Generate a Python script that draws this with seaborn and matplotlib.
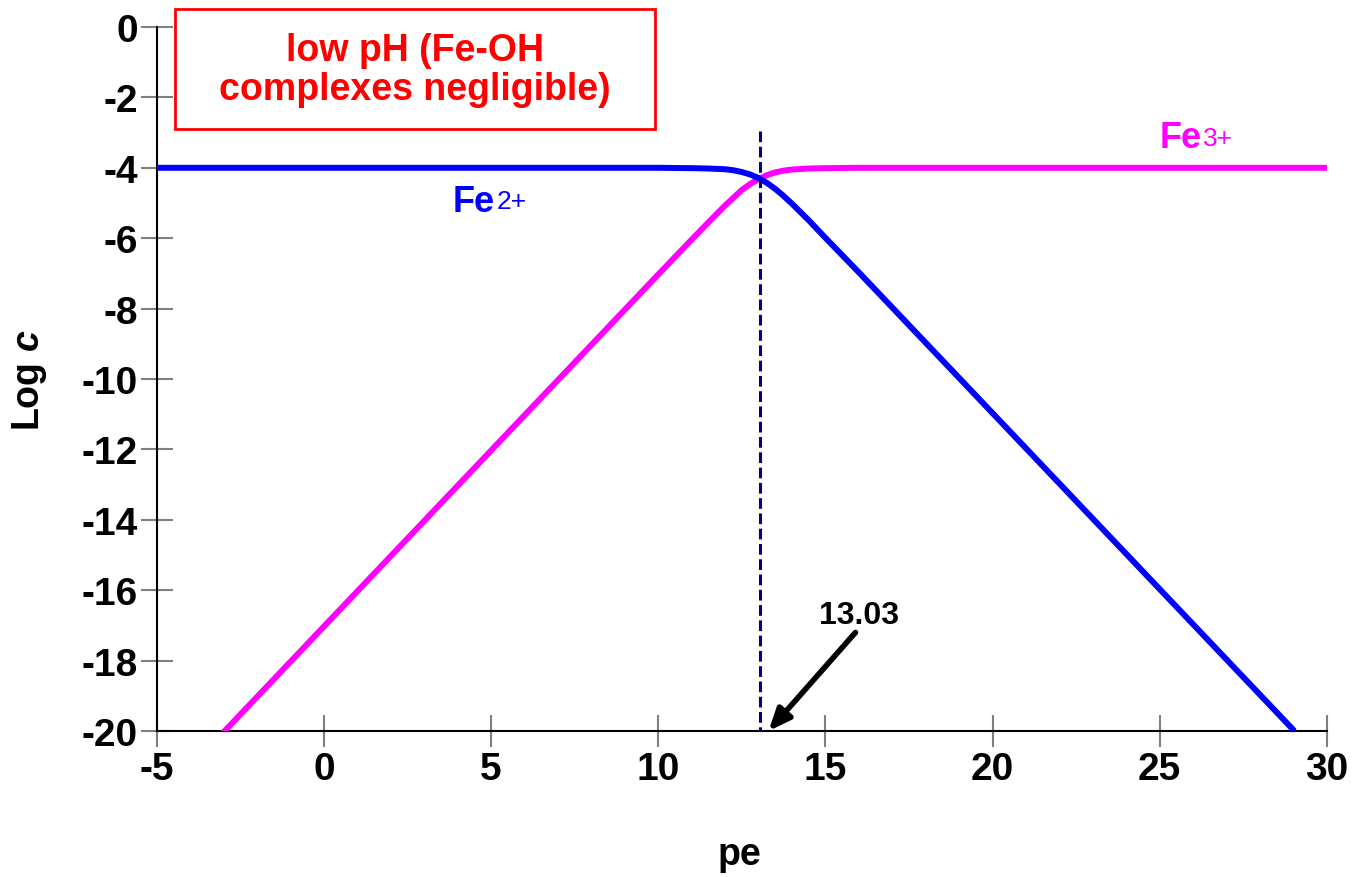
import matplotlib
matplotlib.use("Agg")
import matplotlib.pyplot as plt
import seaborn as sns
import pandas as pd
from matplotlib.patches import Rectangle

# ---- data ----
fe2_pe = [-5, 0, 5, 10, 11, 11.5, 12, 12.25, 12.5, 12.75, 13, 13.25, 13.5, 13.75, 14, 14.5, 15, 16, 18, 20, 25, 29]
fe2_logc = [-4.0, -4.0, -4.0, -4.0, -4.01, -4.02, -4.04, -4.07, -4.12, -4.19, -4.29, -4.43, -4.60, -4.80, -5.02, -5.49, -5.99, -6.97, -8.97, -10.97, -15.97, -19.97]
fe3_pe = [-3, 0, 5, 10, 11, 11.5, 12, 12.25, 12.5, 12.75, 13, 13.25, 13.5, 13.75, 14, 14.5, 15, 16, 20, 25, 30]
fe3_logc = [-20.03, -17.03, -12.03, -7.03, -6.04, -5.55, -5.07, -4.85, -4.63, -4.46, -4.32, -4.21, -4.13, -4.08, -4.05, -4.02, -4.01, -4.0, -4.0, -4.0, -4.0]
x_ticks = [-5, 0, 5, 10, 15, 20, 25, 30]
y_ticks = [0, -2, -4, -6, -8, -10, -12, -14, -16, -18, -20]
pe_cross = 13.03
x_label = "pe"
y_label = "Log $\\mathbfit{c}$"
box_text = "low pH (Fe-OH\ncomplexes negligible)"
cross_text = "13.03"

sns.set_style("white")
plt.rcParams["font.family"] = ["Liberation Sans", "DejaVu Sans"]
plt.rcParams["mathtext.fontset"] = "custom"
plt.rcParams["mathtext.rm"] = "Liberation Sans:bold"
plt.rcParams["mathtext.it"] = "Liberation Sans:italic:bold"
plt.rcParams["mathtext.bfit"] = "Liberation Sans:italic:bold"
plt.rcParams["mathtext.bf"] = "Liberation Sans:bold"

fig = plt.figure(figsize=(13.52, 8.78), dpi=100)
ax = fig.add_axes([0.116, 0.1663, 0.8654, 0.8018])

df2 = pd.DataFrame({"pe": fe2_pe, "logc": fe2_logc})
df3 = pd.DataFrame({"pe": fe3_pe, "logc": fe3_logc})
sns.lineplot(data=df3, x="pe", y="logc", ax=ax, color="#FF00FF", linewidth=4.3, zorder=3)
sns.lineplot(data=df2, x="pe", y="logc", ax=ax, color="#0000FF", linewidth=4.3, zorder=3)

ax.plot([pe_cross, pe_cross], [-2.95, -20], color="#000080", linestyle=(0, (3.5, 1.5)),
        linewidth=2.2, zorder=4)

ax.set_xlim(-5, 30)
ax.set_ylim(-20, 0)
ax.set_xticks(x_ticks)
ax.set_yticks(y_ticks)
ax.set_xticklabels([str(v) for v in x_ticks])
ax.set_yticklabels([str(v) for v in y_ticks])
ax.tick_params(axis="both", direction="inout", length=23, width=1.5, color="#808080",
               labelsize=28, labelcolor="black", bottom=True, left=True)
ax.tick_params(axis="x", pad=3)
ax.tick_params(axis="y", pad=2)
for lab in ax.get_xticklabels() + ax.get_yticklabels():
    lab.set_fontweight("bold")

for s in ["top", "right"]:
    ax.spines[s].set_visible(False)
for s in ["left", "bottom"]:
    ax.spines[s].set_color("black")
    ax.spines[s].set_linewidth(1.5)

ax.set_xlabel(x_label, fontsize=27, fontweight="bold", color="black")
ax.set_ylabel(y_label, fontsize=27, fontweight="bold", color="black")
ax.xaxis.set_label_coords(0.498, -0.1747)
ax.yaxis.set_label_coords(-0.1085, 0.5)
ax.xaxis.label.set_va("center")
ax.yaxis.label.set_va("center")

# text box
rect = Rectangle((0.0154, 0.855), 0.4102, 0.1706, transform=ax.transAxes, fill=True,
                 facecolor="white", edgecolor="#FF0000", linewidth=2, clip_on=False, zorder=5)
ax.add_patch(rect)
ax.text(0.2205, 0.940, box_text, transform=ax.transAxes, ha="center", va="center",
        color="#FF0000", fontsize=27, fontweight="bold", linespacing=1.12, zorder=6)

# species labels
t2 = ax.text(3.85, -4.95, "Fe", color="#0000FF", fontsize=26, fontweight="bold", ha="left", va="center")
ax.annotate("2+", xy=(1, 1), xycoords=t2, xytext=(1, -4), textcoords="offset points",
            color="#0000FF", fontsize=19, ha="left", va="top")
t3 = ax.text(25.0, -3.15, "Fe", color="#FF00FF", fontsize=26, fontweight="bold", ha="left", va="center")
ax.annotate("3+", xy=(1, 1), xycoords=t3, xytext=(1, -4), textcoords="offset points",
            color="#FF00FF", fontsize=19, ha="left", va="top")

# arrow annotation
ax.annotate("", xy=(13.3, -20), xytext=(15.9, -17.2),
            arrowprops=dict(arrowstyle="-|>,head_length=1.3,head_width=0.55", color="black",
                            lw=4, shrinkA=0, shrinkB=0),
            annotation_clip=False, zorder=6)
ax.text(16.0, -16.7, cross_text, ha="center", va="center", fontsize=23, fontweight="bold", color="black")

fig.savefig("out.png", dpi=100)
